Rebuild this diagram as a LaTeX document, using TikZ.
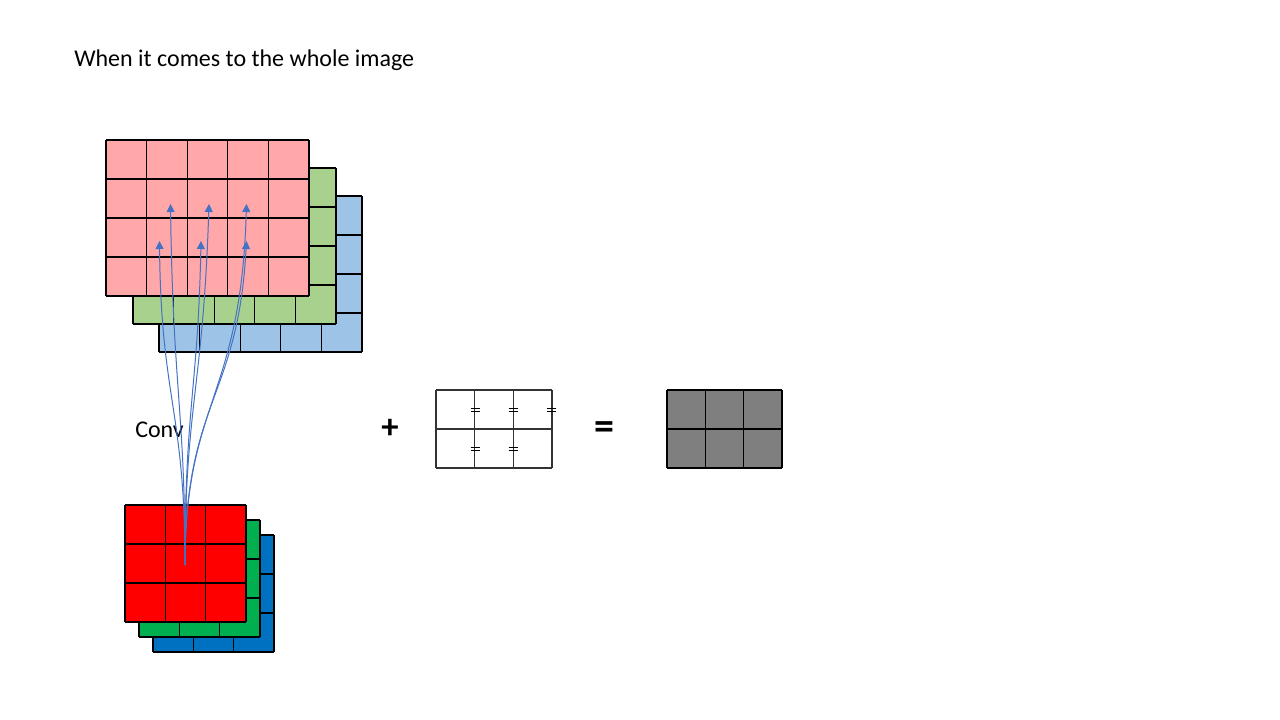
\documentclass[tikz,border=0pt]{standalone}
\usepackage{fontspec}
\setmainfont{Carlito}
\usetikzlibrary{arrows.meta, positioning}
\definecolor{pinkmap}{RGB}{255, 167, 169}
\definecolor{greenmap}{RGB}{169, 209, 142}
\definecolor{bluemap}{RGB}{157, 195, 230}
\definecolor{redker}{RGB}{255, 0, 0}
\definecolor{greenker}{RGB}{0, 176, 80}
\definecolor{blueker}{RGB}{0, 112, 192}
\definecolor{outgray}{RGB}{127, 127, 127}
\definecolor{linkblue}{RGB}{68, 114, 196}
\tikzset{
  gridline/.style={draw=black, line width=0.8pt},
  biasline/.style={draw=black!80, line width=0.8pt},
  markline/.style={draw=black, line width=0.7pt},
  link/.style={draw=linkblue, line width=0.75pt, -{Triangle[width=6pt, length=6pt]}},
  bigtxt/.style={font=\fontsize{18}{22}\selectfont, inner sep=0pt},
  optxt/.style={font=\fontsize{26}{30}\selectfont\bfseries, inner sep=0pt}
}

\begin{document}
\begin{tikzpicture}[x=0.75pt, y=-0.75pt]
  \fill[white] (0,0) rectangle (1280,720);

  % Title
  \node[bigtxt, anchor=base west] (title) at (74,67) {When it comes to the whole image};

  % Input feature maps (blue, green, pink)
  \foreach \lx/\ly/\lc in {159/196/bluemap, 133/168/greenmap, 106/140/pinkmap} {
    \fill[\lc] (\lx,\ly) rectangle ++(203,156);
    \foreach \i in {0,...,5} \draw[gridline] (\lx+\i*40.6,\ly) -- ++(0,156);
    \foreach \j in {0,...,4} \draw[gridline] (\lx,\ly+\j*39) -- ++(203,0);
  }

  % Kernel (blue, green, red)
  \foreach \lx/\ly/\lc in {153/535/blueker, 139/520/greenker, 125/505/redker} {
    \fill[\lc] (\lx,\ly) rectangle ++(121,117);
    \foreach \i in {0,...,3} \draw[gridline] (\lx+\i*40.33,\ly) -- ++(0,117);
    \foreach \j in {0,...,3} \draw[gridline] (\lx,\ly+\j*39) -- ++(121,0);
  }

  % Labels
  \node[bigtxt, anchor=base west] (conv) at (135,437) {Conv};
  \node[optxt] (plus) at (390,429) {+};
  \node[optxt, font=\fontsize{30}{34}\selectfont\bfseries] (equal) at (604,431) {=};

  % Bias
  \foreach \i in {0,...,3} \draw[biasline] (436+\i*38.67,390) -- ++(0,78);
  \foreach \j in {0,...,2} \draw[biasline] (436,390+\j*39) -- ++(116,0);
  \foreach \mx/\my in {475/410, 513/410, 551/410, 475/449, 513/449}
    \draw[markline] (\mx-4.5,\my-1.8) -- ++(9,0) (\mx-4.5,\my+1.8) -- ++(9,0);

  % Output
  \fill[outgray] (667,390) rectangle (782,468);
  \foreach \i in {0,...,3} \draw[gridline] (667+\i*38.33,390) -- ++(0,78);
  \foreach \j in {0,...,2} \draw[gridline] (667,390+\j*39) -- ++(115,0);

  % Connections
  \coordinate (kc) at (185,565);
  \coordinate (t1) at (159.5,241);
  \coordinate (t2) at (201,241);
  \coordinate (t3) at (246.5,241);
  \coordinate (u1) at (170.5,204);
  \coordinate (u2) at (209,204);
  \coordinate (u3) at (246.5,204);
  \draw[link] (kc) .. controls (185,410) and (161,400) .. (t1);
  \draw[link] (kc) .. controls (185,410) and (173,390) .. (u1);
  \draw[link] (kc) .. controls (185,405) and (198,390) .. (t2);
  \draw[link] (kc) .. controls (185,405) and (203,390) .. (u2);
  \draw[link] (kc) .. controls (185,400) and (238,400) .. (t3);
  \draw[link] (kc) .. controls (185,400) and (241,400) .. (u3);
\end{tikzpicture}
\end{document}
